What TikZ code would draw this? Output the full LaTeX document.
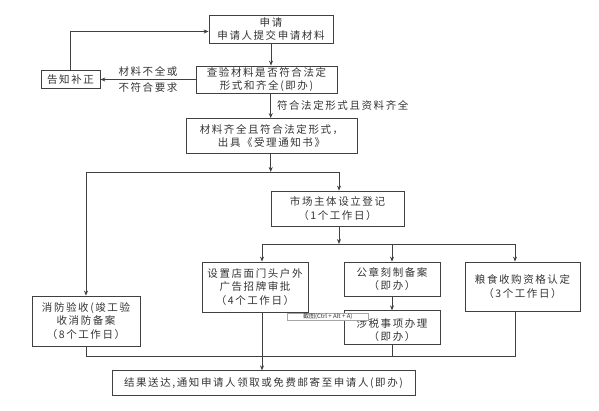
\documentclass[tikz,border=0pt]{standalone}
\usepackage{fontspec}
\setmainfont{Noto Sans CJK SC}
\newfontfamily\cjk[LetterSpace=15]{Noto Sans CJK SC}
\usepackage{xcolor}
\usepackage{tikz}
\usetikzlibrary{positioning,arrows.meta}

\begin{document}
\begin{tikzpicture}[x=1pt, y=-1pt, auto]
      \tikzset{block/.style={rectangle, draw=black!75, line width=0.8pt, align=center, inner sep=0pt, text=black!80, font=\cjk\fontsize{10.5}{13.5}\selectfont}}
      \tikzset{lbl/.style={inner sep=3pt, text=black!80, font=\cjk\fontsize{10.5}{13.5}\selectfont}}
      \tikzset{link/.style={draw=black!75, line width=0.8pt}}
      \tikzset{arr/.style={link, -{Stealth[length=5pt, width=4pt]}}}
      \useasboundingbox (0,0) rectangle (599,411);
      \node[block, minimum width=124pt, minimum height=28pt] (apply) at (271,29) {申请\\申请人提交申请材料};
      \node[block, minimum width=59pt, minimum height=18pt] (notify) at (70.5,79.5) {告知补正};
      \node[block, minimum width=141pt, minimum height=27pt] (check) at (266.5,79.5) {查验材料是否符合法定\\形式和齐全(即办)};
      \node[block, minimum width=171pt, minimum height=35pt] (accept) at (271.5,136) {材料齐全且符合法定形式，\\出具《受理通知书》};
      \node[block, minimum width=133pt, minimum height=35pt] (market) at (337.5,208.5) {市场主体设立登记\\（1个工作日）};
      \node[block, minimum width=108pt, minimum height=50pt] (fire) at (86,321) {消防验收(竣工验\\收消防备案\\（8个工作日）};
      \node[block, minimum width=106pt, minimum height=50pt] (sign) at (255,287) {设置店面门头户外\\广告招牌审批\\（4个工作日）};
      \node[block, minimum width=96pt, minimum height=34pt] (seal) at (392,279) {公章刻制备案\\（即办）};
      \node[block, minimum width=96pt, minimum height=33.5pt, font=\cjk\fontsize{10.5}{12.5}\selectfont] (tax) at (392,327.5) {\rule{0pt}{14pt}涉税事项办理\\（即办）};
      \node[block, minimum width=115pt, minimum height=49pt] (grain) at (522.5,286.5) {粮食收购资格认定\\（3个工作日）};
      \node[block, minimum width=303pt, minimum height=24.5pt] (result) at (263.5,383) {结果送达,通知申请人领取或免费邮寄至申请人(即办)};
      \coordinate (split1) at (270.7,172);
      \coordinate (split2) at (339,244);
      \coordinate (merge) at (262,356);
      \draw[arr] (apply.south) -- (apply.south |- check.north);
      \draw[arr] (check.west) -- node[above, lbl] {材料不全或} node[below, lbl] {不符合要求} (notify.east);
      \draw[arr] (notify.north) |- ([yshift=-2.5pt]apply.west);
      \draw[arr] (check.south -| split1) -- node[right, lbl, inner sep=6pt] {符合法定形式且资料齐全} (accept.north -| split1);
      \draw[arr] (accept.south -| split1) -- (split1);
      \draw[arr] (split1) -| (fire.north);
      \draw[arr] (split1) -| (split2 |- market.north);
      \draw[arr] (split2 |- market.south) -- (split2);
      \draw[arr] (split2) -| ([xshift=7pt]sign.north);
      \draw[arr] (split2) -| (seal.north);
      \draw[arr] (split2) -| ([xshift=-7.5pt]grain.north);
      \draw[arr] (seal.south) -- (tax.north);
      \draw[link] (fire.south) |- (merge);
      \draw[link] (tax.south) |- (merge);
      \draw[link] ([xshift=-7.5pt]grain.south) |- (merge);
      \draw[arr] ([xshift=7pt]sign.south) -- ([xshift=7pt]sign.south |- result.north);
      \node[draw=black!35, fill=white, line width=0.5pt, inner sep=0.3pt, minimum width=81pt, minimum height=7.4pt, text=black!80, font=\fontsize{6}{6.5}\selectfont] (tip) at (327.8,316.5) {截图(Ctrl + Alt + A)};
    \end{tikzpicture}
\end{document}
